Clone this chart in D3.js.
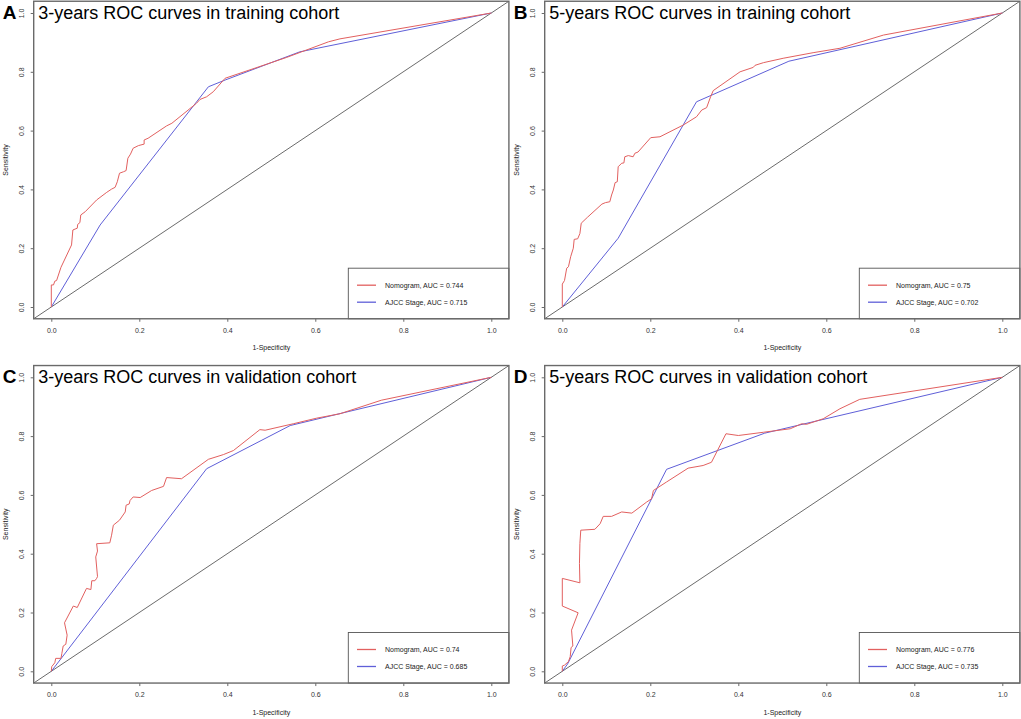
<!DOCTYPE html>
<html>
<head>
<meta charset="utf-8">
<script src="https://cdn.jsdelivr.net/npm/d3@7"></script>
<style>
  body { margin: 0; background: #fff; }
  svg text { font-family: "Liberation Sans", Arial, sans-serif; }
</style>
</head>
<body>
<svg id="chart" width="1021" height="719"></svg>
<script>
// panel texts
var panelLetters = ["A", "B", "C", "D"];
var panelTitles = [
  "3-years ROC curves in training cohort",
  "5-years ROC curves in training cohort",
  "3-years ROC curves in validation cohort",
  "5-years ROC curves in validation cohort"
];
var nomogramAuc = ["0.744", "0.75", "0.74", "0.776"];
var ajccAuc = ["0.715", "0.702", "0.685", "0.735"];
var tickValues = [0, 0.2, 0.4, 0.6, 0.8, 1.0];

// curves as [1-specificity, sensitivity]
var nomogramA = [[0,0],[0,0.075],[0.005,0.075],[0.008,0.088],[0.012,0.09],[0.022,0.135],[0.046,0.211],[0.049,0.262],[0.054,0.265],[0.059,0.268],[0.06,0.281],[0.065,0.287],[0.067,0.313],[0.077,0.324],[0.103,0.364],[0.126,0.39],[0.137,0.401],[0.145,0.407],[0.15,0.426],[0.155,0.455],[0.164,0.46],[0.17,0.464],[0.174,0.506],[0.18,0.52],[0.186,0.54],[0.198,0.549],[0.211,0.554],[0.211,0.568],[0.22,0.574],[0.262,0.616],[0.274,0.625],[0.33,0.693],[0.338,0.706],[0.353,0.715],[0.368,0.732],[0.395,0.778],[0.535,0.849],[0.569,0.868],[0.63,0.902],[0.656,0.912],[1,1]];
var ajccA = [[0,0],[0.111,0.279],[0.357,0.749],[0.395,0.772],[0.565,0.868],[1,1]];

var nomogramB = [[0,0],[0,0.078],[0.005,0.09],[0.01,0.132],[0.014,0.137],[0.019,0.171],[0.025,0.2],[0.027,0.23],[0.035,0.232],[0.04,0.25],[0.043,0.285],[0.057,0.305],[0.09,0.35],[0.098,0.355],[0.108,0.358],[0.112,0.381],[0.116,0.398],[0.12,0.423],[0.125,0.426],[0.127,0.477],[0.135,0.489],[0.14,0.49],[0.142,0.511],[0.15,0.515],[0.161,0.511],[0.165,0.523],[0.172,0.527],[0.201,0.576],[0.222,0.579],[0.275,0.619],[0.305,0.647],[0.317,0.67],[0.328,0.678],[0.337,0.715],[0.343,0.736],[0.404,0.8],[0.434,0.815],[0.438,0.822],[0.457,0.831],[0.502,0.846],[0.57,0.865],[0.631,0.88],[0.73,0.925],[1,1]];
var ajccB = [[0,0],[0.127,0.234],[0.305,0.698],[0.515,0.836],[1,1]];

var nomogramC = [[0,0],[0.001,0.016],[0.008,0.029],[0.01,0.044],[0.022,0.044],[0.024,0.061],[0.027,0.086],[0.033,0.092],[0.036,0.123],[0.03,0.165],[0.05,0.222],[0.059,0.217],[0.08,0.282],[0.09,0.278],[0.092,0.308],[0.099,0.308],[0.103,0.316],[0.105,0.322],[0.101,0.389],[0.105,0.409],[0.103,0.434],[0.133,0.437],[0.137,0.463],[0.141,0.497],[0.155,0.514],[0.168,0.542],[0.17,0.565],[0.177,0.569],[0.179,0.581],[0.186,0.593],[0.202,0.591],[0.228,0.615],[0.255,0.629],[0.262,0.659],[0.296,0.655],[0.357,0.721],[0.391,0.737],[0.414,0.751],[0.474,0.822],[0.486,0.82],[0.55,0.842],[0.603,0.861],[0.656,0.876],[0.75,0.922],[1,1]];
var ajccC = [[0,0],[0.353,0.689],[0.543,0.836],[1,1]];

var nomogramD = [[0,0],[0,0.018],[0.005,0.021],[0.014,0.033],[0.018,0.05],[0.02,0.081],[0.024,0.086],[0.021,0.14],[0.036,0.199],[0,0.222],[0,0.316],[0.04,0.301],[0.039,0.367],[0.04,0.435],[0.042,0.48],[0.074,0.483],[0.086,0.502],[0.093,0.527],[0.112,0.527],[0.135,0.542],[0.158,0.538],[0.192,0.576],[0.203,0.587],[0.207,0.615],[0.237,0.644],[0.286,0.691],[0.32,0.7],[0.339,0.711],[0.372,0.808],[0.4,0.802],[0.457,0.813],[0.518,0.825],[0.544,0.842],[0.555,0.84],[0.593,0.859],[0.631,0.893],[0.676,0.925],[1,1]];
var ajccD = [[0,0],[0.012,0.025],[0.237,0.687],[0.46,0.81],[1,1]];

var nomogramCurves = [nomogramA, nomogramB, nomogramC, nomogramD];
var ajccCurves = [ajccA, ajccB, ajccC, ajccD];

// where data (0,0) sits for each panel, and pixels per unit
var originX = [51.3, 562.3, 51.3, 562.3];
var originY = [307, 307, 671.3, 671.3];
var unitW = 440, unitH = 294;

var red = "#e2605f", blue = "#5f5fd8", frame = "#6a6a6a";

var svg = d3.select("#chart");

function drawPanel(i) {
    var x = d3.scaleLinear().domain([-0.04, 1.04])
        .range([originX[i] - 0.04 * unitW, originX[i] + 1.04 * unitW]);
    var y = d3.scaleLinear().domain([-0.04, 1.04])
        .range([originY[i] + 0.04 * unitH, originY[i] - 1.04 * unitH]);

    var g = svg.append("g");
    var left = x(-0.04), right = x(1.04), top = y(1.04), bottom = y(-0.04);

    // x axis
    var xAxis = g.append("g")
        .attr("transform", "translate(0," + bottom + ")")
        .call(d3.axisBottom(x).tickValues(tickValues).tickFormat(d3.format(".1f"))
            .tickSize(3).tickPadding(6));
    xAxis.select(".domain").remove();
    xAxis.selectAll("line").attr("stroke", frame);
    xAxis.selectAll("text").attr("font-size", 7).attr("fill", "#333")
        .style("font-family", "Liberation Sans, Arial, sans-serif");

    // y axis, labels turned like R does
    var yAxis = g.append("g")
        .attr("transform", "translate(" + left + ",0)")
        .call(d3.axisLeft(y).tickValues(tickValues).tickFormat(d3.format(".1f")).tickSize(3));
    yAxis.select(".domain").remove();
    yAxis.selectAll("line").attr("stroke", frame);
    yAxis.selectAll("text")
        .attr("x", 0).attr("y", -9.5).attr("dy", null)
        .attr("transform", "rotate(-90)")
        .attr("text-anchor", "middle")
        .attr("font-size", 7).attr("fill", "#333")
        .style("font-family", "Liberation Sans, Arial, sans-serif");

    g.append("text")
        .attr("x", (left + right) / 2).attr("y", bottom + 31.5)
        .attr("text-anchor", "middle").attr("font-size", 7).attr("fill", "#222")
        .text("1-Specificity");

    g.append("text")
        .attr("transform", "translate(" + (left - 26) + "," + ((top + bottom) / 2) + ") rotate(-90)")
        .attr("text-anchor", "middle").attr("font-size", 7).attr("fill", "#222")
        .text("Sensitivity");

    // reference diagonal, corner to corner
    g.append("line")
        .attr("x1", x(-0.04)).attr("y1", y(-0.04))
        .attr("x2", x(1.04)).attr("y2", y(1.04))
        .attr("stroke", "#5a5a5a").attr("stroke-width", 0.9);

    var line = d3.line()
        .x(function(d) { return x(d[0]); })
        .y(function(d) { return y(d[1]); });

    g.append("path").datum(ajccCurves[i])
        .attr("d", line).attr("fill", "none")
        .attr("stroke", blue).attr("stroke-width", 1);

    g.append("path").datum(nomogramCurves[i])
        .attr("d", line).attr("fill", "none")
        .attr("stroke", red).attr("stroke-width", 1);

    // legend
    var lx = x(0.675), ly = y(0.132);
    g.append("rect")
        .attr("x", lx).attr("y", ly)
        .attr("width", right - lx).attr("height", bottom - ly)
        .attr("fill", "#fff").attr("stroke", "#555").attr("stroke-width", 0.9);

    var entries = [
        { label: "Nomogram, AUC = " + nomogramAuc[i], color: red },
        { label: "AJCC Stage, AUC = " + ajccAuc[i], color: blue }
    ];
    entries.forEach(function(e, k) {
        var ey = ly + 17 + k * 17;
        g.append("line")
            .attr("x1", lx + 8.7).attr("x2", lx + 27.7)
            .attr("y1", ey).attr("y2", ey)
            .attr("stroke", e.color).attr("stroke-width", 1.3);
        g.append("text")
            .attr("x", lx + 36.7).attr("y", ey).attr("dy", "0.35em")
            .attr("font-size", 7).attr("fill", "#222")
            .text(e.label);
    });

    // frame
    g.append("rect")
        .attr("x", left).attr("y", top)
        .attr("width", right - left).attr("height", bottom - top)
        .attr("fill", "none").attr("stroke", frame).attr("stroke-width", 1.4);

    // title and letter
    g.append("text")
        .attr("x", left + 4.5).attr("y", y(1) + 6)
        .attr("font-size", 18).attr("fill", "#000")
        .text(panelTitles[i]);

    g.append("text")
        .attr("x", left - 31).attr("y", y(1) + 5.5)
        .attr("font-size", 19).attr("font-weight", "bold").attr("fill", "#000")
        .text(panelLetters[i]);
}

for (var i = 0; i < 4; i++) {
    drawPanel(i);
}
</script>
</body>
</html>
